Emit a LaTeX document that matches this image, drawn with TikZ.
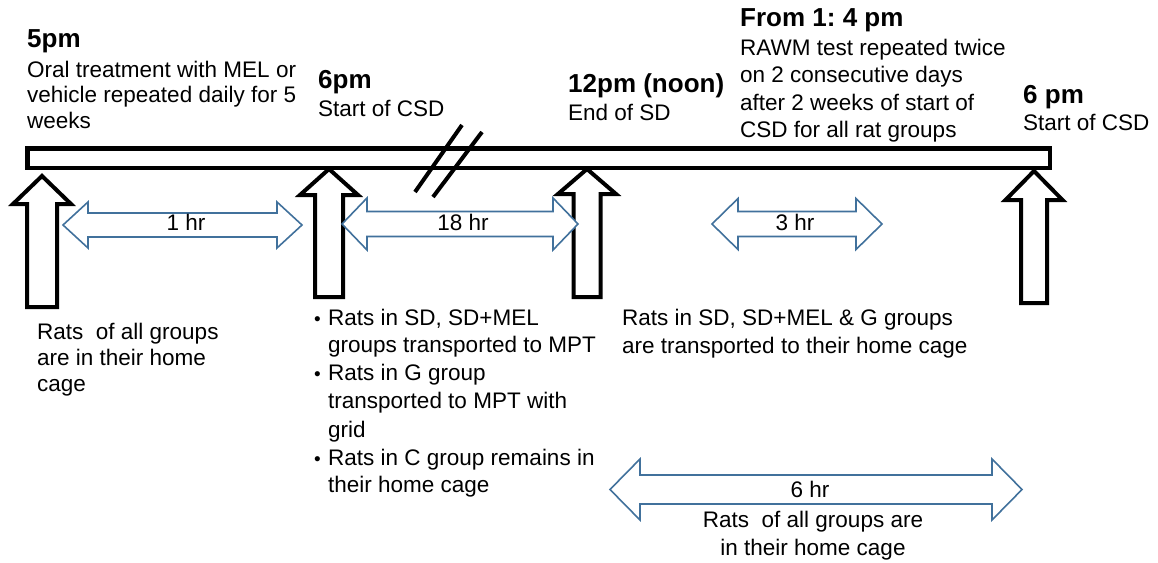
\documentclass[tikz,border=0pt]{standalone}
\usepackage{fontspec}
\setmainfont{Liberation Sans}
\frenchspacing
\usetikzlibrary{calc}
\definecolor{spanblue}{RGB}{65,113,156}
\tikzset{
	timebar/.style={draw=black, line width=4.5pt, fill=white},
	blockup/.style={draw=black, line width=4pt, fill=white, line join=miter},
	spanarr/.style={draw=spanblue, line width=1.6pt, fill=white, line join=miter},
	brk/.style={draw=black, line width=4pt},
	hdr/.style={anchor=base west, inner sep=0pt, font=\fontsize{26}{30}\selectfont\bfseries},
	txt/.style={anchor=base west, inner sep=0pt, align=left, font=\fontsize{22.5}{27.5}\selectfont},
	bul/.style={anchor=base west, inner sep=0pt, font=\fontsize{19}{20}\selectfont},
	hrs/.style={anchor=base, inner sep=0pt, align=center, font=\fontsize{22.5}{28}\selectfont}
}
% up arrow: centre x, tip y, head base y, bottom y, head half width, shaft half width
\newcommand{\blockarrow}[6]{
	\draw[blockup] (#1,#2) -- (#1+#5,#3) -- (#1+#6,#3) -- (#1+#6,#4) -- (#1-#6,#4) -- (#1-#6,#3) -- (#1-#5,#3) -- cycle;
}
% double arrow: left tip x, right tip x, centre y, shaft half, head half, head length
\newcommand{\spanarrow}[6]{
	\draw[spanarr] (#1,#3) -- (#1+#6,#3-#5) -- (#1+#6,#3-#4) -- (#2-#6,#3-#4) -- (#2-#6,#3-#5) -- (#2,#3)
		-- (#2-#6,#3+#5) -- (#2-#6,#3+#4) -- (#1+#6,#3+#4) -- (#1+#6,#3+#5) -- cycle;
}

\begin{document}
\begin{tikzpicture}[x=1pt, y=-1pt]
	\useasboundingbox (0,0) rectangle (1158,562);
	% time line
	\draw[timebar] (27.5,148.5) rectangle (1050,168);
	\draw[brk] (415,192) -- (462,125);
	\draw[brk] (433,197) -- (482,132);
	% time points
	\blockarrow{42}{176}{204}{307}{29}{15}
	\blockarrow{329}{169}{195}{297}{29}{14}
	\blockarrow{587}{169}{194}{297}{29}{13.5}
	\blockarrow{1034}{171}{200}{303}{28.5}{13}
	% durations
	\spanarrow{63}{302}{225}{12}{23}{25}
	\spanarrow{342}{578}{224}{12.5}{26}{25}
	\spanarrow{712}{882}{224}{12.5}{25.5}{26}
	\spanarrow{610}{1022}{489.5}{14.5}{30.5}{30}
	\node[hrs] (l1hr) at (186,230) {1 hr};
	\node[hrs] (l18hr) at (463,230) {18 hr};
	\node[hrs] (l3hr) at (795,230) {3 hr};
	\node[hrs] (l6hr) at (810,497) {6 hr};
	% labels above (multi-line texts sit on their last baseline)
	\node[hdr] (t5pm) at (27,47) {5pm};
	\node[txt, font=\fontsize{22.5}{25.7}\selectfont] (t5body) at (27,128.4) {Oral treatment with MEL or\\vehicle repeated daily for 5\\weeks};
	\node[hdr] (t6pm) at (318,88) {6pm};
	\node[txt] (t6body) at (318,116) {Start of CSD};
	\node[hdr] (tnoon) at (568,92) {12pm (noon)};
	\node[txt] (tnoonbody) at (568,120) {End of SD};
	\node[hdr] (trawm) at (740,27) {From 1: 4 pm};
	\node[txt] (trawmbody) at (740,137.5) {RAWM test repeated twice\\on 2 consecutive days\\after 2 weeks of start of\\CSD for all rat groups};
	\node[hdr] (t6pmb) at (1023,103) {6 pm};
	\node[txt] (t6pmbbody) at (1023,130) {Start of CSD};
	% labels below
	\node[txt, font=\fontsize{22.5}{26}\selectfont] (lhome) at (37,391) {Rats\ \ of all groups\\are in their home\\cage};
	\node[bul] (b1) at (314,325) {\textbullet};
	\node[txt] (lsd) at (328,352.5) {Rats in SD, SD+MEL\\groups transported to MPT};
	\node[bul] (b2) at (314,380) {\textbullet};
	\node[txt, font=\fontsize{22.5}{28.5}\selectfont] (lg) at (328,437) {Rats in G group\\transported to MPT with\\grid};
	\node[bul] (b3) at (314,465) {\textbullet};
	\node[txt] (lc) at (328,492.5) {Rats in C group remains in\\their home cage};
	\node[txt, font=\fontsize{22.5}{28}\selectfont] (lback) at (622,353) {Rats in SD, SD+MEL \& G groups\\are transported to their home cage};
	\node[hrs] (lall) at (813,555) {Rats\ \ of all groups are\\in their home cage};
\end{tikzpicture}
\end{document}
